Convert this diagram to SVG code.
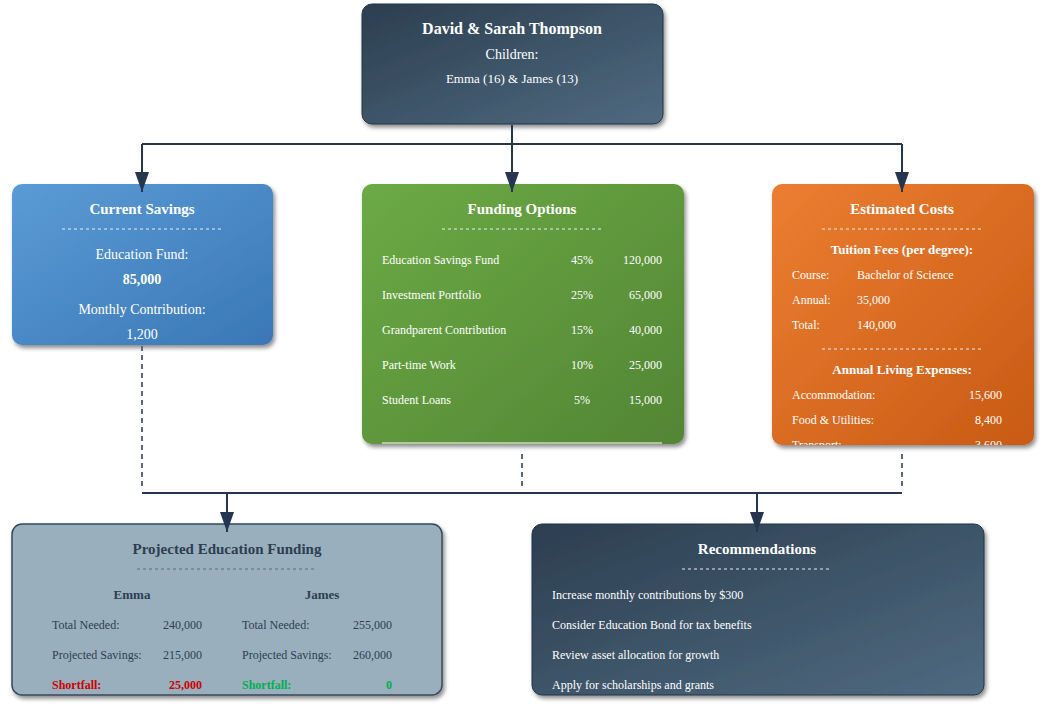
<svg xmlns="http://www.w3.org/2000/svg" width="1049" height="705" viewBox="0 0 1049 705">
<defs>
<linearGradient id="gDark" x1="0" y1="0" x2="1" y2="1"><stop offset="0" stop-color="#2c3e50"/><stop offset="1" stop-color="#4f6a80"/></linearGradient>
<linearGradient id="gBlue" x1="0" y1="0" x2="1" y2="1"><stop offset="0" stop-color="#5b9bd5"/><stop offset="1" stop-color="#3a77b6"/></linearGradient>
<linearGradient id="gGreen" x1="0" y1="0" x2="1" y2="1"><stop offset="0" stop-color="#6caa45"/><stop offset="1" stop-color="#528534"/></linearGradient>
<linearGradient id="gOrange" x1="0" y1="0" x2="1" y2="1"><stop offset="0" stop-color="#ec7e32"/><stop offset="1" stop-color="#c85a14"/></linearGradient>
<filter id="sh" x="-10%" y="-10%" width="125%" height="130%"><feDropShadow dx="2" dy="3" stdDeviation="2" flood-color="#000" flood-opacity="0.45"/></filter>
<marker id="arr" viewBox="0 0 14 20" refX="7" refY="20" markerWidth="14" markerHeight="20" markerUnits="userSpaceOnUse" orient="0"><path d="M0,0 L14,0 L7,20 z" fill="#253750"/></marker>
<clipPath id="cpCost"><rect x="772" y="184" width="262" height="261" rx="10"/></clipPath>
</defs>
<style>
text{font-family:"Liberation Serif","Times New Roman",serif;fill:#fff;}
.t{font-size:15px;font-weight:bold;text-anchor:middle;}
.c{text-anchor:middle;}
.b{font-weight:bold;}
.s14{font-size:14px;}
.s13{font-size:13px;}
.s12{font-size:12px;}
.r{text-anchor:end;}
.dash{stroke:#e6edf3;stroke-width:1.2;stroke-dasharray:3,3;fill:none;}
.conn{stroke:#253750;stroke-width:2;fill:none;}
.dconn{stroke:#5a6a7e;stroke-width:2;stroke-dasharray:5,4;fill:none;}
.dk{fill:#2c3e50;}
</style>
<g id="family">
<rect x="362" y="4" width="301" height="120" rx="10" fill="url(#gDark)" stroke="#253447" stroke-width="1" filter="url(#sh)"/>
<text class="t" x="512" y="34" style="font-size:16px">David &amp; Sarah Thompson</text>
<text class="c s14" x="512" y="59">Children:</text>
<text class="c s13" x="512" y="83">Emma (16) &amp; James (13)</text>
</g>
<g id="current-savings">
<rect x="12" y="184" width="261" height="161" rx="10" fill="url(#gBlue)" filter="url(#sh)"/>
<text class="t" x="142" y="214">Current Savings</text>
<line class="dash" x1="62" y1="229" x2="222" y2="229"/>
<text class="c s14" x="142" y="259">Education Fund:</text>
<text class="c s14 b" x="142" y="284">85,000</text>
<text class="c s14" x="142" y="314">Monthly Contribution:</text>
<text class="c s14" x="142" y="339">1,200</text>
</g>
<g id="funding-options">
<rect x="362" y="184" width="322" height="260" rx="10" fill="url(#gGreen)" filter="url(#sh)"/>
<text class="t" x="522" y="214">Funding Options</text>
<line class="dash" x1="442" y1="229" x2="602" y2="229"/>
<text class="s12" x="382" y="264">Education Savings Fund</text><text class="s12 c" x="582" y="264">45%</text><text class="s12 r" x="662" y="264">120,000</text>
<text class="s12" x="382" y="299">Investment Portfolio</text><text class="s12 c" x="582" y="299">25%</text><text class="s12 r" x="662" y="299">65,000</text>
<text class="s12" x="382" y="334">Grandparent Contribution</text><text class="s12 c" x="582" y="334">15%</text><text class="s12 r" x="662" y="334">40,000</text>
<text class="s12" x="382" y="369">Part-time Work</text><text class="s12 c" x="582" y="369">10%</text><text class="s12 r" x="662" y="369">25,000</text>
<text class="s12" x="382" y="404">Student Loans</text><text class="s12 c" x="582" y="404">5%</text><text class="s12 r" x="662" y="404">15,000</text>
<line x1="382" y1="443" x2="662" y2="443" stroke="#c8dcb8" stroke-width="1.5"/>
</g>
<g id="estimated-costs">
<rect x="772" y="184" width="262" height="261" rx="10" fill="url(#gOrange)" filter="url(#sh)"/>
<g clip-path="url(#cpCost)">
<text class="t" x="902" y="214">Estimated Costs</text>
<line class="dash" x1="822" y1="229" x2="982" y2="229"/>
<text class="c s13 b" x="902" y="254">Tuition Fees (per degree):</text>
<text class="s12" x="792" y="279">Course:</text><text class="s12" x="857" y="279">Bachelor of Science</text>
<text class="s12" x="792" y="304">Annual:</text><text class="s12" x="857" y="304">35,000</text>
<text class="s12" x="792" y="329">Total:</text><text class="s12" x="857" y="329">140,000</text>
<line class="dash" x1="822" y1="349" x2="982" y2="349"/>
<text class="c s13 b" x="902" y="374">Annual Living Expenses:</text>
<text class="s12" x="792" y="399">Accommodation:</text><text class="s12 r" x="1002" y="399">15,600</text>
<text class="s12" x="792" y="424">Food &amp; Utilities:</text><text class="s12 r" x="1002" y="424">8,400</text>
<text class="s12" x="792" y="449">Transport:</text><text class="s12 r" x="1002" y="449">3,600</text>
</g>
</g>
<g id="projected-funding">
<rect x="12" y="524" width="430" height="171" rx="10" fill="#9aafbd" stroke="#34495e" stroke-width="1.5" filter="url(#sh)"/>
<text class="t dk" x="227" y="554">Projected Education Funding</text>
<line class="dash" x1="137" y1="569" x2="314" y2="569" style="stroke:#5d6d7e"/>
<text class="c s13 b dk" x="132" y="599">Emma</text>
<text class="c s13 b dk" x="322" y="599">James</text>
<text class="s12 dk" x="52" y="629">Total Needed:</text><text class="s12 r dk" x="202" y="629">240,000</text>
<text class="s12 dk" x="52" y="659">Projected Savings:</text><text class="s12 r dk" x="202" y="659">215,000</text>
<text class="s12 b" x="52" y="689" style="fill:#cc0000">Shortfall:</text><text class="s12 r b" x="202" y="689" style="fill:#cc0000">25,000</text>
<text class="s12 dk" x="242" y="629">Total Needed:</text><text class="s12 r dk" x="392" y="629">255,000</text>
<text class="s12 dk" x="242" y="659">Projected Savings:</text><text class="s12 r dk" x="392" y="659">260,000</text>
<text class="s12 b" x="242" y="689" style="fill:#00b050">Shortfall:</text><text class="s12 r b" x="392" y="689" style="fill:#00b050">0</text>
</g>
<g id="recommendations">
<rect x="532" y="524" width="452" height="171" rx="10" fill="url(#gDark)" stroke="#253447" stroke-width="1" filter="url(#sh)"/>
<text class="t" x="757" y="554">Recommendations</text>
<line class="dash" x1="682" y1="569" x2="830" y2="569"/>
<text class="s12" x="552" y="599">Increase monthly contributions by $300</text>
<text class="s12" x="552" y="629">Consider Education Bond for tax benefits</text>
<text class="s12" x="552" y="659">Review asset allocation for growth</text>
<text class="s12" x="552" y="689">Apply for scholarships and grants</text>
</g>
<g id="connectors">
<path class="conn" d="M512,125 V144"/>
<path class="conn" d="M142,144 H902"/>
<path class="conn" d="M142,144 V192" marker-end="url(#arr)"/>
<path class="conn" d="M512,144 V192" marker-end="url(#arr)"/>
<path class="conn" d="M902,144 V192" marker-end="url(#arr)"/>
<path class="dconn" d="M142,346 V490"/>
<path class="dconn" d="M522,454 V490"/>
<path class="dconn" d="M902,454 V490"/>
<path class="conn" d="M142,493 H902"/>
<path class="conn" d="M227,493 V532" marker-end="url(#arr)"/>
<path class="conn" d="M757,493 V532" marker-end="url(#arr)"/>
</g>
</svg>
